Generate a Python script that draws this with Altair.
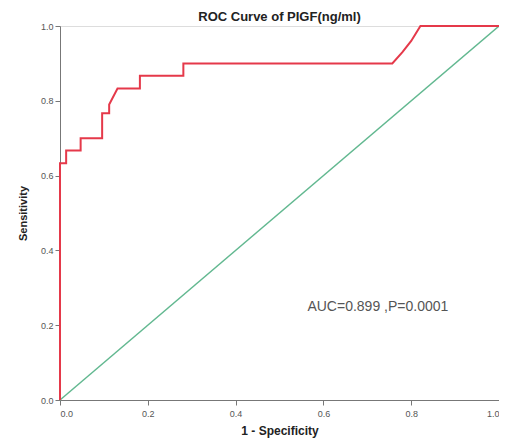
import altair as alt
import pandas as pd

# ROC curve points (1 - specificity, sensitivity)
fpr = [0.0, 0.0, 0.014, 0.014, 0.047, 0.047, 0.096, 0.096, 0.112, 0.112, 0.131, 0.182, 0.182,
       0.281, 0.281, 0.757, 0.78, 0.80, 0.821, 1.0]
tpr = [0.0, 0.633, 0.633, 0.667, 0.667, 0.700, 0.700, 0.767, 0.767, 0.79, 0.833, 0.833, 0.867,
       0.867, 0.900, 0.900, 0.93, 0.96, 1.0, 1.0]
ref_x = [0.0, 1.0]
ref_y = [0.0, 1.0]
ticks = [0.0, 0.2, 0.4, 0.6, 0.8, 1.0]
annotation = "AUC=0.899 ,P=0.0001"

roc = pd.DataFrame({"x": fpr, "y": tpr, "o": list(range(len(fpr)))})
diag = pd.DataFrame({"x": ref_x, "y": ref_y})
ann = pd.DataFrame({"x": [0.724], "y": [0.25], "t": [annotation]})

xs = alt.Scale(domain=[0, 1], nice=False)
ys = alt.Scale(domain=[0, 1], nice=False)

xaxis = alt.Axis(values=ticks, format=".1f", title="1 - Specificity", grid=False,
                 labelFont="Liberation Sans", labelFontSize=9, labelColor="#555",
                 titleFont="Liberation Sans", titleFontSize=12, titleFontWeight="bold",
                 titleColor="#222", domainColor="#777", tickColor="#777", tickSize=5,
                 labelPadding=4, titlePadding=7)
yaxis = alt.Axis(values=ticks, format=".1f", title="Sensitivity", grid=False,
                 labelFont="Liberation Sans", labelFontSize=9, labelColor="#555",
                 titleFont="Liberation Sans", titleFontSize=11, titleFontWeight="bold",
                 titleColor="#222", domainColor="#777", tickColor="#777", tickSize=5,
                 labelPadding=2, titlePadding=12)

diag_line = alt.Chart(diag).mark_line(color="#62b890", strokeWidth=1.5).encode(
    x=alt.X("x:Q", scale=xs, axis=xaxis),
    y=alt.Y("y:Q", scale=ys, axis=yaxis),
)
roc_line = alt.Chart(roc).mark_line(color="#e5394a", strokeWidth=2).encode(
    x=alt.X("x:Q", scale=xs),
    y=alt.Y("y:Q", scale=ys),
    order="o:Q",
)
text = alt.Chart(ann).mark_text(font="Liberation Sans", fontSize=14, color="#555").encode(
    x=alt.X("x:Q", scale=xs),
    y=alt.Y("y:Q", scale=ys),
    text="t:N",
)

chart = alt.layer(diag_line, roc_line, text).properties(
    width=439, height=374,
    title=alt.TitleParams("ROC Curve of PIGF(ng/ml)", font="Liberation Sans", fontSize=13,
                          fontWeight="bold", color="#222", anchor="middle", offset=4, dy=6),
    autosize=alt.AutoSizeParams(type="none"),
    padding={"left": 52, "top": 18, "right": 0, "bottom": 40},
).configure_view(stroke="#777", strokeWidth=1.2).configure(background="white")

chart.save("out.html", embed_options={"renderer": "svg", "actions": False})
